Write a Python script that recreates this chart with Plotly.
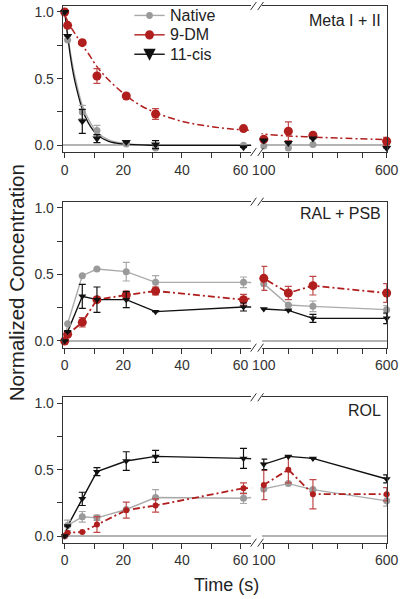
import plotly.graph_objects as go

W, H = 416, 599

# ---------------- data ----------------
t_left = [0, 1, 6, 11, 21, 31, 61]
t_right = [100, 200, 300, 600]
series_names = ["Native", "9-DM", "11-cis"]

# Panel 1: Meta I + II
meta_native_l = [1.0, 0.79, 0.25, 0.11, 0.01, -0.02, 0.0]
meta_native_r = [-0.005, -0.02, 0.005, 0.0]
meta_native_el = [None, None, 0.05, 0.04, None, None, None]
meta_native_er = [None, None, None, None]
meta_9dm_l = [1.0, 0.90, 0.77, 0.52, 0.37, 0.235, 0.125]
meta_9dm_r = [0.045, 0.105, 0.075, 0.03]
meta_9dm_el = [None, None, None, 0.055, None, 0.04, None]
meta_9dm_er = [None, 0.07, None, 0.03]
meta_11cis_l = [1.0, 0.82, 0.18, 0.05, 0.025, 0.005, -0.015]
meta_11cis_r = [0.035, 0.017, 0.05, -0.02]
meta_11cis_el = [None, None, 0.09, 0.03, None, 0.03, None]
meta_11cis_er = [None, None, None, None]

# fitted decay curves in panel 1
fit_t_9dm = [0, 1, 2, 4, 6, 8, 11, 15, 20, 25, 31, 40, 50, 61, 75, 100, 200, 300, 400, 600]
fit_9dm = [0.98, 0.93, 0.89, 0.82, 0.75, 0.69, 0.59, 0.49, 0.39, 0.31, 0.245, 0.18, 0.14,
           0.115, 0.097, 0.085, 0.07, 0.062, 0.054, 0.043]
fit_t_fast = [0, 1, 2, 3, 4, 6, 8, 11, 15, 20, 30, 45, 65]
fit_native = [1.0, 0.84, 0.69, 0.57, 0.47, 0.30, 0.20, 0.10, 0.04, 0.015, 0.002, 0.0, 0.0]
fit_11cis = [1.0, 0.82, 0.66, 0.53, 0.43, 0.27, 0.17, 0.08, 0.03, 0.01, 0.0, 0.0, 0.0]

# Panel 2: RAL + PSB
ral_native_l = [0.0, 0.13, 0.49, 0.54, 0.52, 0.44, 0.44]
ral_native_r = [0.43, 0.27, 0.26, 0.235]
ral_native_el = [None, None, None, None, 0.07, 0.05, 0.04]
ral_native_er = [0.05, None, 0.04, 0.03]
ral_9dm_l = [0.0, 0.05, 0.14, 0.31, 0.345, 0.375, 0.31]
ral_9dm_r = [0.47, 0.36, 0.415, 0.36]
ral_9dm_el = [None, None, 0.035, None, 0.03, 0.03, 0.04]
ral_9dm_er = [0.09, 0.05, 0.07, 0.07]
ral_11cis_l = [0.0, 0.07, 0.335, 0.31, 0.31, 0.22, 0.255]
ral_11cis_r = [0.24, 0.23, 0.17, 0.17]
ral_11cis_el = [None, None, 0.09, 0.095, 0.06, None, 0.03]
ral_11cis_er = [None, None, 0.03, 0.04]

# Panel 3: ROL
rol_native_l = [0.0, 0.08, 0.145, 0.137, 0.2, 0.29, 0.285]
rol_native_r = [0.355, 0.395, 0.35, 0.265]
rol_native_el = [None, 0.04, 0.04, 0.02, None, 0.06, 0.04]
rol_native_er = [None, None, None, 0.04]
rol_9dm_l = [0.0, 0.025, 0.03, 0.087, 0.195, 0.23, 0.36]
rol_9dm_r = [0.385, 0.5, 0.315, 0.315]
rol_9dm_el = [None, None, None, 0.06, 0.06, 0.05, 0.04]
rol_9dm_er = [0.11, 0.1, 0.11, 0.05]
rol_11cis_l = [0.0, 0.075, 0.28, 0.485, 0.565, 0.6, 0.585]
rol_11cis_r = [0.54, 0.6, 0.585, 0.43]
rol_11cis_el = [None, None, 0.05, 0.03, 0.07, 0.045, 0.075]
rol_11cis_er = [0.04, None, None, 0.03]

panel_labels = ["Meta I + II", "RAL + PSB", "ROL"]
xl_tickvals = [0, 10, 20, 30, 40, 50, 60]
xl_ticktext = ["0", "", "20", "", "40", "", "60"]
xr_tickvals = [100, 200, 300, 400, 500, 600]
xr_ticktext = ["100", "", "", "", "", "600"]
y_tickvals = [0, 0.25, 0.5, 0.75, 1.0]
y_ticktext = ["0.0", "", "0.5", "", "1.0"]

# ---------------- styles ----------------
GRAY, RED, BLACK = "#9a9a9a", "#b01e1e", "#111111"
ERR = {"Native": "#a8a8a8", "9-DM": "#c04848", "11-cis": "#111111"}
COL = {"Native": GRAY, "9-DM": RED, "11-cis": BLACK}
LINECOL = {"Native": "#aaaaaa", "9-DM": RED, "11-cis": BLACK}
SYM = {"Native": "circle", "9-DM": "circle", "11-cis": "triangle-down"}
DASH = {"Native": "solid", "9-DM": "7px,3px,2px,3px", "11-cis": "solid"}
SIZE = [{"Native": 7, "9-DM": 9, "11-cis": 8},
        {"Native": 7, "9-DM": 9, "11-cis": 7},
        {"Native": 7, "9-DM": 6, "11-cis": 7}]
FONT = "Liberation Sans, Arial, sans-serif"
AX = "#333333"

def px_x(p):
    return p / W

def px_y(p):
    return 1 - p / H

x_left_dom = [px_x(56.5), px_x(255)]
x_right_dom = [px_x(266), px_x(398)]
panel_px = [(4, 150.7), (200.7, 347.4), (397.3, 543.4)]
YR = [-0.05, 1.045]
XL_R = [-0.7, 63.6]
XR_R = [91, 601]

fig = go.Figure()

panels = [
    {"Native": (meta_native_l, meta_native_r, meta_native_el, meta_native_er),
     "9-DM": (meta_9dm_l, meta_9dm_r, meta_9dm_el, meta_9dm_er),
     "11-cis": (meta_11cis_l, meta_11cis_r, meta_11cis_el, meta_11cis_er)},
    {"Native": (ral_native_l, ral_native_r, ral_native_el, ral_native_er),
     "9-DM": (ral_9dm_l, ral_9dm_r, ral_9dm_el, ral_9dm_er),
     "11-cis": (ral_11cis_l, ral_11cis_r, ral_11cis_el, ral_11cis_er)},
    {"Native": (rol_native_l, rol_native_r, rol_native_el, rol_native_er),
     "9-DM": (rol_9dm_l, rol_9dm_r, rol_9dm_el, rol_9dm_er),
     "11-cis": (rol_11cis_l, rol_11cis_r, rol_11cis_el, rol_11cis_er)},
]

def axid(n):
    return "" if n == 1 else str(n)

for p, pdata in enumerate(panels):
    nl, nr = 2 * p + 1, 2 * p + 2
    xa_l, ya_l = "x" + axid(nl), "y" + axid(nl)
    xa_r, ya_r = "x" + axid(nr), "y" + axid(nr)
    # connecting lines / fits first
    if p == 0:
        fig.add_trace(go.Scatter(x=fit_t_fast, y=fit_native, mode="lines", xaxis=xa_l, yaxis=ya_l,
                                 line=dict(color="#aaaaaa", width=1.3, shape="spline"),
                                 showlegend=False, hoverinfo="skip"))
        fig.add_trace(go.Scatter(x=fit_t_fast, y=fit_11cis, mode="lines", xaxis=xa_l, yaxis=ya_l,
                                 line=dict(color=BLACK, width=1.3, shape="spline"),
                                 showlegend=False, hoverinfo="skip"))
        for xa, ya in ((xa_l, ya_l), (xa_r, ya_r)):
            fig.add_trace(go.Scatter(x=fit_t_9dm, y=fit_9dm, mode="lines", xaxis=xa, yaxis=ya,
                                     line=dict(color=RED, width=1.5, dash=DASH["9-DM"], shape="spline"),
                                     showlegend=False, hoverinfo="skip"))
    else:
        for name in series_names:
            yl, yr, el, er = pdata[name]
            for xa, ya in ((xa_l, ya_l), (xa_r, ya_r)):
                fig.add_trace(go.Scatter(x=t_left + t_right, y=yl + yr, mode="lines",
                                         xaxis=xa, yaxis=ya,
                                         line=dict(color=LINECOL[name], width=1.4 if name != "9-DM" else 1.8,
                                                   dash=DASH[name]),
                                         showlegend=False, hoverinfo="skip"))
    # markers with error bars
    for name in series_names:
        yl, yr, el, er = pdata[name]
        for xs, ys, es, xa, ya in ((t_left, yl, el, xa_l, ya_l), (t_right, yr, er, xa_r, ya_r)):
            fig.add_trace(go.Scatter(
                x=xs, y=ys, mode="markers", xaxis=xa, yaxis=ya, cliponaxis=False,
                marker=dict(symbol=SYM[name], size=SIZE[p][name], color=COL[name],
                            line=dict(width=0)),
                error_y=dict(type="data", array=es, visible=True, color=ERR[name],
                             thickness=1.2, width=3.5),
                showlegend=False, hoverinfo="skip"))

layout = dict(
    width=W, height=H, margin=dict(l=0, r=0, t=0, b=0),
    paper_bgcolor="white", plot_bgcolor="white",
    font=dict(family=FONT, size=14, color="#333333"),
    showlegend=False, hovermode=False,
)

for p in range(3):
    top, bot = panel_px[p]
    ydom = [px_y(bot), px_y(top)]
    nl, nr = 2 * p + 1, 2 * p + 2
    layout["xaxis" + axid(nl)] = dict(
        domain=x_left_dom, range=XL_R, anchor="y" + axid(nl),
        showline=True, linecolor=AX, linewidth=1, mirror=True,
        ticks="outside", ticklen=5, tickcolor=AX, tickvals=xl_tickvals, ticktext=xl_ticktext,
        showgrid=False, zeroline=False, tickfont=dict(size=14, color="#333333"))
    layout["xaxis" + axid(nr)] = dict(
        domain=x_right_dom, range=XR_R, anchor="y" + axid(nr),
        showline=True, linecolor=AX, linewidth=1, mirror=True,
        ticks="outside", ticklen=5, tickcolor=AX, tickvals=xr_tickvals, ticktext=xr_ticktext,
        showgrid=False, zeroline=False, tickfont=dict(size=14, color="#333333"))
    layout["yaxis" + axid(nl)] = dict(
        domain=ydom, range=YR, anchor="x" + axid(nl),
        showline=True, linecolor=AX, linewidth=1,
        ticks="outside", ticklen=5, tickcolor=AX, tickvals=y_tickvals, ticktext=y_ticktext,
        showgrid=False, zeroline=True, zerolinecolor="#b4b4b4", zerolinewidth=1.6,
        tickfont=dict(size=14, color="#333333"))
    layout["yaxis" + axid(nr)] = dict(
        domain=ydom, range=YR, anchor="x" + axid(nr), side="right",
        showline=True, linecolor=AX, linewidth=1,
        ticks="", showticklabels=False,
        showgrid=False, zeroline=True, zerolinecolor="#b4b4b4", zerolinewidth=1.6)

fig.update_layout(**layout)

# panel labels, titles and legend texts
ann = []
label_y = [19, 213, 411]
for p in range(3):
    ann.append(dict(text=panel_labels[p], x=px_x(394), y=px_y(label_y[p]), xref="paper", yref="paper",
                    xanchor="right", yanchor="middle", showarrow=False,
                    font=dict(size=16, color="#222222", family=FONT)))
ann.append(dict(text="Time (s)", x=px_x(229), y=px_y(586), xref="paper", yref="paper",
                xanchor="center", yanchor="middle", showarrow=False,
                font=dict(size=18, color="#222222", family=FONT)))
ann.append(dict(text="Normalized Concentration", x=px_x(8), y=px_y(282), xref="paper", yref="paper",
                xanchor="center", yanchor="middle", showarrow=False, textangle=-90,
                font=dict(size=20.5, color="#222222", family=FONT)))

# legend (drawn as layout decoration)
legend_y = {"Native": 13.5, "9-DM": 33, "11-cis": 52.5}
for name in series_names:
    ann.append(dict(text=name, x=px_x(167), y=px_y(legend_y[name]), xref="paper", yref="paper",
                    xanchor="left", yanchor="middle", showarrow=False,
                    font=dict(size=16, color="#222222", family=FONT)))
fig.update_layout(annotations=ann)

shapes = []
# broken-axis marks
for p in range(3):
    top, bot = panel_px[p]
    for yy in (top, bot):
        for x0 in (254.5, 262):
            shapes.append(dict(type="line", xref="paper", yref="paper",
                               x0=px_x(x0), y0=px_y(yy + 4), x1=px_x(x0 + 6), y1=px_y(yy - 4),
                               line=dict(color=AX, width=1)))
# legend glyphs
LX0, LX1, LXC = 132, 164, 148
for name in series_names:
    yy = legend_y[name]
    shapes.append(dict(type="line", xref="paper", yref="paper",
                       x0=px_x(LX0), x1=px_x(LX1), y0=px_y(yy), y1=px_y(yy),
                       line=dict(color=LINECOL[name], width=1.4)))
    if SYM[name] == "circle":
        r = 3.5 if name == "Native" else 4.7
        shapes.append(dict(type="circle", xref="paper", yref="paper",
                           x0=px_x(LXC - r), x1=px_x(LXC + r), y0=px_y(yy + r), y1=px_y(yy - r),
                           fillcolor=COL[name], line=dict(width=0)))
    else:
        hw = 6.5
        path = "M {:.5f},{:.5f} L {:.5f},{:.5f} L {:.5f},{:.5f} Z".format(
            px_x(LXC - hw), px_y(yy - 5.5), px_x(LXC + hw), px_y(yy - 5.5), px_x(LXC), px_y(yy + 6.5))
        shapes.append(dict(type="path", xref="paper", yref="paper", path=path,
                           fillcolor=COL[name], line=dict(width=0)))
fig.update_layout(shapes=shapes)

# remove the browser's default page margin so the figure sits at the window's top-left corner
fig.write_html(
    "out.html",
    config={"displayModeBar": False, "staticPlot": True},
    post_script=("document.body.style.margin='0';document.body.style.padding='0';"
                 "document.body.style.overflow='hidden';"
                 "document.documentElement.style.overflow='hidden';"),
)
